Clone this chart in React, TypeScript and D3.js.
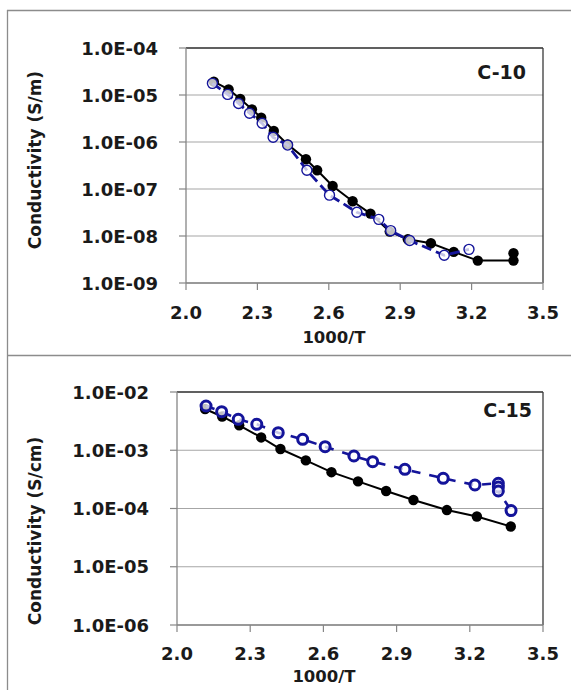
import React from "react";
import * as d3 from "d3";

type Pt = [number, number];

const xTicks = [2.0, 2.3, 2.6, 2.9, 3.2, 3.5];
const xTickLabels = ["2.0", "2.3", "2.6", "2.9", "3.2", "3.5"];

const c10YTicks = [1e-4, 1e-5, 1e-6, 1e-7, 1e-8, 1e-9];
const c10YTickLabels = ["1.0E-04", "1.0E-05", "1.0E-06", "1.0E-07", "1.0E-08", "1.0E-09"];
const c15YTicks = [1e-2, 1e-3, 1e-4, 1e-5, 1e-6];
const c15YTickLabels = ["1.0E-02", "1.0E-03", "1.0E-04", "1.0E-05", "1.0E-06"];

const c10Black: Pt[] = [
  [2.117, 1.92e-5], [2.179, 1.32e-5], [2.228, 8.2e-6], [2.277, 4.95e-6], [2.316, 3.3e-6],
  [2.369, 1.71e-6], [2.427, 8.9e-7], [2.504, 4.3e-7], [2.551, 2.5e-7], [2.616, 1.16e-7],
  [2.7, 5.5e-8], [2.775, 3.0e-8], [2.856, 1.24e-8], [2.932, 8.5e-9], [3.029, 7.0e-9],
  [3.125, 4.6e-9], [3.226, 3.0e-9], [3.376, 3.0e-9], [3.376, 4.3e-9],
];
const c10Blue: Pt[] = [
  [2.111, 1.77e-5], [2.175, 1.03e-5], [2.221, 6.6e-6], [2.267, 4.1e-6], [2.32, 2.5e-6],
  [2.366, 1.26e-6], [2.427, 8.6e-7], [2.508, 2.5e-7], [2.603, 7.4e-8], [2.718, 3.2e-8],
  [2.81, 2.26e-8], [2.86, 1.3e-8], [2.94, 8.0e-9], [3.085, 3.9e-9], [3.189, 5.2e-9],
];
const c15Black: Pt[] = [
  [2.115, 5.1e-3], [2.185, 3.8e-3], [2.255, 2.68e-3], [2.345, 1.66e-3], [2.424, 1.05e-3],
  [2.528, 6.7e-4], [2.633, 4.2e-4], [2.742, 2.92e-4], [2.857, 2.0e-4], [2.969, 1.4e-4],
  [3.106, 9.4e-5], [3.229, 7.3e-5], [3.368, 4.9e-5],
];
const c15Blue: Pt[] = [
  [2.119, 5.75e-3], [2.183, 4.6e-3], [2.251, 3.4e-3], [2.327, 2.79e-3], [2.415, 2.0e-3],
  [2.515, 1.54e-3], [2.607, 1.15e-3], [2.725, 7.96e-4], [2.802, 6.36e-4], [2.934, 4.7e-4],
  [3.091, 3.3e-4], [3.221, 2.53e-4], [3.317, 2.71e-4], [3.317, 2.34e-4], [3.317, 2.0e-4],
  [3.369, 9.2e-5],
];

const FONT = "'DejaVu Sans', Verdana, sans-serif";
const BLUE = "#14149a";
const GRID = "#a6a6a6";
const AXIS = "#868686";

interface PanelProps {
  left: number;
  right: number;
  top: number;
  bottom: number;
  yTicks: number[];
  yTickLabels: string[];
  yLabelRight: number;
  yTitle: string;
  yTitleX: number;
  yTitleY: number;
  xLabelY: number;
  xTitleX: number;
  xTitleY: number;
  tag: string;
  tagX: number;
  tagY: number;
  black: Pt[];
  blue: Pt[];
  blueStroke: number;
  blueDash: string;
  blueMarkerStroke: number;
}

function Panel(p: PanelProps) {
  const x = d3.scaleLinear().domain([2.0, 3.5]).range([p.left, p.right]);
  const yMin = d3.min(p.yTicks) as number;
  const yMax = d3.max(p.yTicks) as number;
  const y = d3.scaleLog().domain([yMin, yMax]).range([p.bottom, p.top]);
  const line = d3
    .line<Pt>()
    .x((d) => x(d[0]))
    .y((d) => y(d[1]));

  return (
    <g>
      {p.yTicks.map((t) => (
        <line key={"g" + t} x1={p.left} x2={p.right} y1={y(t)} y2={y(t)} stroke={GRID} strokeWidth={1.2} />
      ))}
      <line x1={p.left} x2={p.right} y1={p.top} y2={p.top} stroke="#3a3a3a" strokeWidth={1.3} />
      <line x1={p.right} x2={p.right} y1={p.top} y2={p.bottom} stroke="#3a3a3a" strokeWidth={1.3} />
      <line x1={p.left} x2={p.left} y1={p.top} y2={p.bottom} stroke={AXIS} strokeWidth={1.3} />
      <line x1={p.left} x2={p.right} y1={p.bottom} y2={p.bottom} stroke={AXIS} strokeWidth={1.3} />
      {p.yTicks.map((t) => (
        <line key={"yt" + t} x1={p.left - 7} x2={p.left} y1={y(t)} y2={y(t)} stroke={AXIS} strokeWidth={1.2} />
      ))}
      {xTicks.map((t) => (
        <line key={"xt" + t} x1={x(t)} x2={x(t)} y1={p.bottom} y2={p.bottom + 7} stroke={AXIS} strokeWidth={1.2} />
      ))}
      {p.yTicks.map((t, i) => (
        <text
          key={"yl" + t}
          x={p.yLabelRight}
          y={y(t) + 6.5}
          textAnchor="end"
          fontFamily={FONT}
          fontWeight="bold"
          fontSize={18}
          fill="#1a1a1a"
        >
          {p.yTickLabels[i]}
        </text>
      ))}
      {xTicks.map((t, i) => (
        <text
          key={"xl" + t}
          x={x(t)}
          y={p.xLabelY}
          textAnchor="middle"
          fontFamily={FONT}
          fontWeight="bold"
          fontSize={18}
          fill="#1a1a1a"
        >
          {xTickLabels[i]}
        </text>
      ))}
      <text
        x={p.xTitleX}
        y={p.xTitleY}
        textAnchor="middle"
        fontFamily={FONT}
        fontWeight="bold"
        fontSize={16.5}
        fill="#1a1a1a"
      >
        1000/T
      </text>
      <text
        transform={`translate(${p.yTitleX},${p.yTitleY}) rotate(-90)`}
        textAnchor="middle"
        dy="0.35em"
        fontFamily={FONT}
        fontWeight="bold"
        fontSize={17}
        fill="#1a1a1a"
      >
        {p.yTitle}
      </text>
      <text
        x={p.tagX}
        y={p.tagY}
        textAnchor="end"
        fontFamily={FONT}
        fontWeight="bold"
        fontSize={19}
        fill="#1a1a1a"
      >
        {p.tag}
      </text>
      <path d={line(p.black) || ""} fill="none" stroke="#000" strokeWidth={2} />
      {p.black.map((d, i) => (
        <circle key={"b" + i} cx={x(d[0])} cy={y(d[1])} r={5.2} fill="#000" />
      ))}
      <path
        d={line(p.blue) || ""}
        fill="none"
        stroke={BLUE}
        strokeWidth={p.blueStroke}
        strokeDasharray={p.blueDash}
      />
      {p.blue.map((d, i) => (
        <circle
          key={"u" + i}
          cx={x(d[0])}
          cy={y(d[1])}
          r={5}
          fill="#fff"
          fillOpacity={0.75}
          stroke={BLUE}
          strokeWidth={p.blueMarkerStroke}
        />
      ))}
    </g>
  );
}

export default function App() {
  return (
    <svg
      width={571}
      height={690}
      style={{ position: "absolute", left: 0, top: 0, background: "#fff" }}
    >
      <rect x={0} y={0} width={571} height={690} fill="#fff" />
      <line x1={7.5} x2={7.5} y1={10} y2={690} stroke="#8c8c8c" strokeWidth={1.3} />
      <line x1={7} x2={571} y1={10.5} y2={10.5} stroke="#8c8c8c" strokeWidth={1.3} />
      <line x1={7} x2={571} y1={355.5} y2={355.5} stroke="#8c8c8c" strokeWidth={1.3} />
      <Panel
        left={186}
        right={543}
        top={48}
        bottom={283}
        yTicks={c10YTicks}
        yTickLabels={c10YTickLabels}
        yLabelRight={158}
        yTitle="Conductivity (S/m)"
        yTitleX={35}
        yTitleY={160}
        xLabelY={319}
        xTitleX={334}
        xTitleY={343}
        tag="C-10"
        tagX={526}
        tagY={79}
        black={c10Black}
        blue={c10Blue}
        blueStroke={2.8}
        blueDash="10,5"
        blueMarkerStroke={1.4}
      />
      <Panel
        left={177}
        right={543}
        top={392}
        bottom={625}
        yTicks={c15YTicks}
        yTickLabels={c15YTickLabels}
        yLabelRight={149}
        yTitle="Conductivity (S/cm)"
        yTitleX={35}
        yTitleY={531}
        xLabelY={660}
        xTitleX={324}
        xTitleY={682}
        tag="C-15"
        tagX={532}
        tagY={417}
        black={c15Black}
        blue={c15Blue}
        blueStroke={2.6}
        blueDash="9,9"
        blueMarkerStroke={3}
      />
    </svg>
  );
}
